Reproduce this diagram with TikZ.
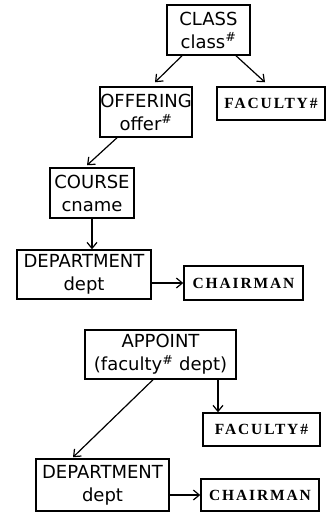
\documentclass[tikz,border=0pt]{standalone}
\usepackage{fontspec}
\setmainfont{DejaVu Sans}
\newfontfamily\keyfont[LetterSpace=12]{Liberation Serif}
\usetikzlibrary{arrows.meta,calc}
\tikzset{
  ent/.style={draw, line width=1.5pt, inner sep=0pt, align=center,
    font=\fontsize{18}{23}\selectfont},
  keybox/.style={draw, line width=1.5pt, inner sep=0pt, align=center,
    font=\fontsize{15.5}{17}\selectfont\keyfont\bfseries},
  link/.style={line width=1.2pt, -{Straight Barb[length=6pt,width=10pt,line width=1.2pt]}}
}
\newcommand{\hs}{\textsuperscript{\#}}
\begin{document}
\begin{tikzpicture}[x=1pt,y=-1pt]
  \useasboundingbox (0,0) rectangle (327,512);
  % first structure
  \node[ent, minimum width=83pt, minimum height=50pt] (class) at (208.5,30) {CLASS\\class\hs};
  \node[ent, minimum width=92pt, minimum height=50pt] (offering) at (146,112) {OFFERING\\offer\hs};
  \node[keybox, minimum width=108pt, minimum height=33pt] (fac1) at (271,103.5) {FACULTY\#};
  \node[ent, minimum width=84pt, minimum height=50pt] (course) at (92,193) {COURSE\\cname};
  \node[ent, minimum width=134pt, minimum height=49pt] (dept1) at (84,274.5) {DEPARTMENT\\dept};
  \node[keybox, minimum width=119pt, minimum height=34pt] (chair1) at (243.5,283) {CHAIRMAN};
  \draw[link] ([xshift=-26.5pt]class.south) -- ([xshift=9pt,yshift=4pt]offering.north);
  \draw[link] ([xshift=27.5pt]class.south) -- ([xshift=-6pt,yshift=4pt]fac1.north);
  \draw[link] ([xshift=-29pt]offering.south) -- ([xshift=-5pt,yshift=2pt]course.north);
  \draw[link] (course.south) -- (course.south |- dept1.north);
  \draw[link] (dept1.east |- chair1.west) -- (chair1.west);
  % second structure
  \node[ent, minimum width=151pt, minimum height=49pt] (appoint) at (160.5,354.5) {APPOINT\\(faculty\hs\ dept)};
  \node[keybox, minimum width=117pt, minimum height=33pt] (fac2) at (261.5,429.5) {FACULTY\#};
  \node[ent, minimum width=133pt, minimum height=52pt] (dept2) at (102.5,485) {DEPARTMENT\\dept};
  \node[keybox, minimum width=118pt, minimum height=32pt] (chair2) at (260,495) {CHAIRMAN};
  \draw[link] ([xshift=-7.5pt]appoint.south) -- ([xshift=-29.5pt,yshift=1pt]dept2.north);
  \draw[link] ([xshift=57.5pt]appoint.south) -- ([xshift=57.5pt]appoint.south |- fac2.north);
  \draw[link] (dept2.east |- chair2.west) -- (chair2.west);
\end{tikzpicture}
\end{document}
